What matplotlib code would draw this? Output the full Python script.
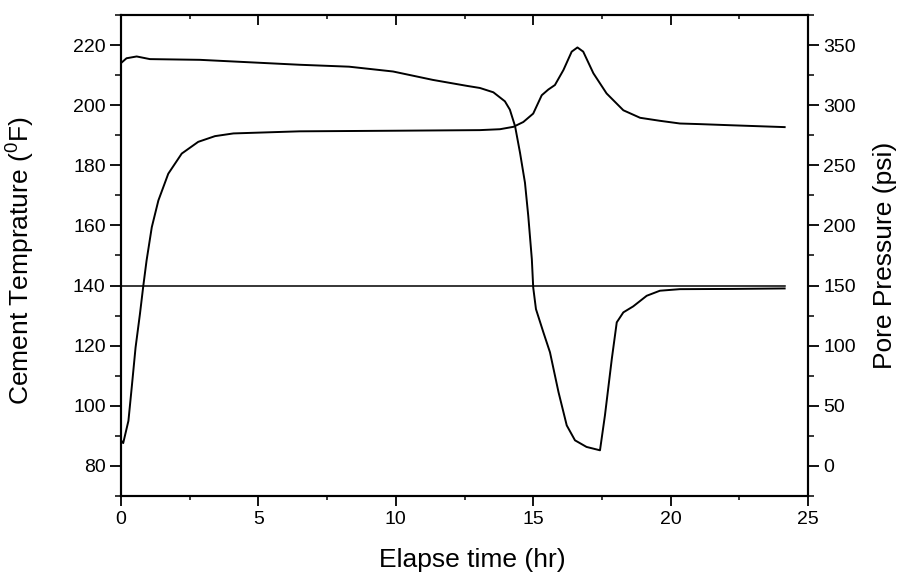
import matplotlib.pyplot as plt
from matplotlib.ticker import MultipleLocator

plt.rcParams['font.family'] = 'Liberation Sans'
plt.rcParams['mathtext.fontset'] = 'custom'
plt.rcParams['mathtext.rm'] = 'Liberation Sans'

# cement temperature (deg F)
temp_time = [0, 0.08, 0.27, 0.39, 0.53, 0.69, 0.81, 0.93, 1.12, 1.36, 1.72, 2.21, 2.81,
             3.42, 4.09, 6.5, 10, 13.06, 13.79, 14.28, 14.64, 15.0, 15.31, 15.55, 15.79,
             16.1, 16.4, 16.61, 16.82, 17.19, 17.67, 18.28, 18.89, 19.61, 20.34, 21.05,
             22.25, 24.15]
temp_vals = [88.5, 87.6, 95, 106.1, 119.4, 130.6, 139.8, 148.3, 159.4, 168.3, 177.2, 183.9,
             187.8, 189.7, 190.6, 191.3, 191.5, 191.7, 192, 192.8, 194.4, 197.2, 203.3, 205.2,
             206.7, 211.7, 217.8, 219.2, 217.8, 210.6, 203.9, 198.3, 195.8, 194.8, 193.9,
             193.7, 193.3, 192.7]

# reference temperature line
ref_time = [0, 24.15]
ref_vals = [140, 140]

# pore pressure (psi)
pres_time = [0, 0.2, 0.57, 1.05, 2.87, 6.5, 8.3, 9.9, 11.35, 12.6, 13.06, 13.55, 13.97,
             14.15, 14.34, 14.52, 14.7, 14.82, 14.95, 15.0, 15.1, 15.37, 15.61, 15.92,
             16.22, 16.52, 16.94, 17.43, 17.61, 17.86, 18.04, 18.28, 18.64, 19.13, 19.61,
             20.34, 22.25, 24.15]
pres_vals = [335, 339, 340.5, 338.3, 337.7, 333.6, 332, 328, 321, 316, 314.3, 310.7, 303.2,
             296.3, 282.5, 260.4, 235.5, 207.9, 171.9, 148.4, 130.4, 111.1, 94.5, 61.4,
             33.7, 21.3, 15.8, 13, 42, 89, 119.4, 127.7, 132.7, 141.5, 145.7,
             147, 147.2, 147.6]

fig = plt.figure(figsize=(9.01, 5.76), dpi=100)
ax = fig.add_axes([0.1343, 0.1389, 0.7625, 0.8351])
ax2 = ax.twinx()

ax.plot(temp_time, temp_vals, color='black', lw=1.4)
ax.plot(ref_time, ref_vals, color='black', lw=1.1)
ax2.plot(pres_time, pres_vals, color='black', lw=1.4)

ax.set_xlim(0, 25)
ax.set_ylim(70, 230)
ax2.set_ylim(-25, 375)

ax.xaxis.set_major_locator(MultipleLocator(5))
ax.xaxis.set_minor_locator(MultipleLocator(2.5))
ax.yaxis.set_major_locator(MultipleLocator(20))
ax.yaxis.set_minor_locator(MultipleLocator(10))
ax2.yaxis.set_major_locator(MultipleLocator(50))
ax2.yaxis.set_minor_locator(MultipleLocator(25))

ax.tick_params(axis='x', which='both', direction='out', top=True, labelsize=14, pad=4)
ax.tick_params(axis='x', which='major', length=7, width=1.3)
ax.tick_params(axis='x', which='minor', length=3, width=1.1)
ax.tick_params(axis='y', which='major', direction='out', length=8, width=1.3,
               labelsize=14, pad=3)
ax.tick_params(axis='y', which='minor', direction='out', length=4, width=1.1)
ax2.tick_params(axis='y', which='major', direction='out', length=8, width=1.3,
                labelsize=14, pad=3)
ax2.tick_params(axis='y', which='minor', direction='out', length=4, width=1.1)
# top ticks point into the plot
for t in ax.xaxis.get_major_ticks() + ax.xaxis.get_minor_ticks():
    t.tick2line.set_marker(3)

for s in ax.spines.values():
    s.set_linewidth(1.5)
for s in ax2.spines.values():
    s.set_linewidth(1.5)

ax.set_xlabel('Elapse time (hr)', fontsize=19)
ax.set_ylabel(r'Cement Temprature ($^0$F)', fontsize=19)
ax2.set_ylabel('Pore Pressure (psi)', fontsize=19)
ax.xaxis.set_label_coords(0.511, -0.108)
ax.yaxis.set_label_coords(-0.124, 0.489)
ax2.yaxis.set_label_coords(1.095, 0.501)

fig.savefig('out.png', dpi=100)
